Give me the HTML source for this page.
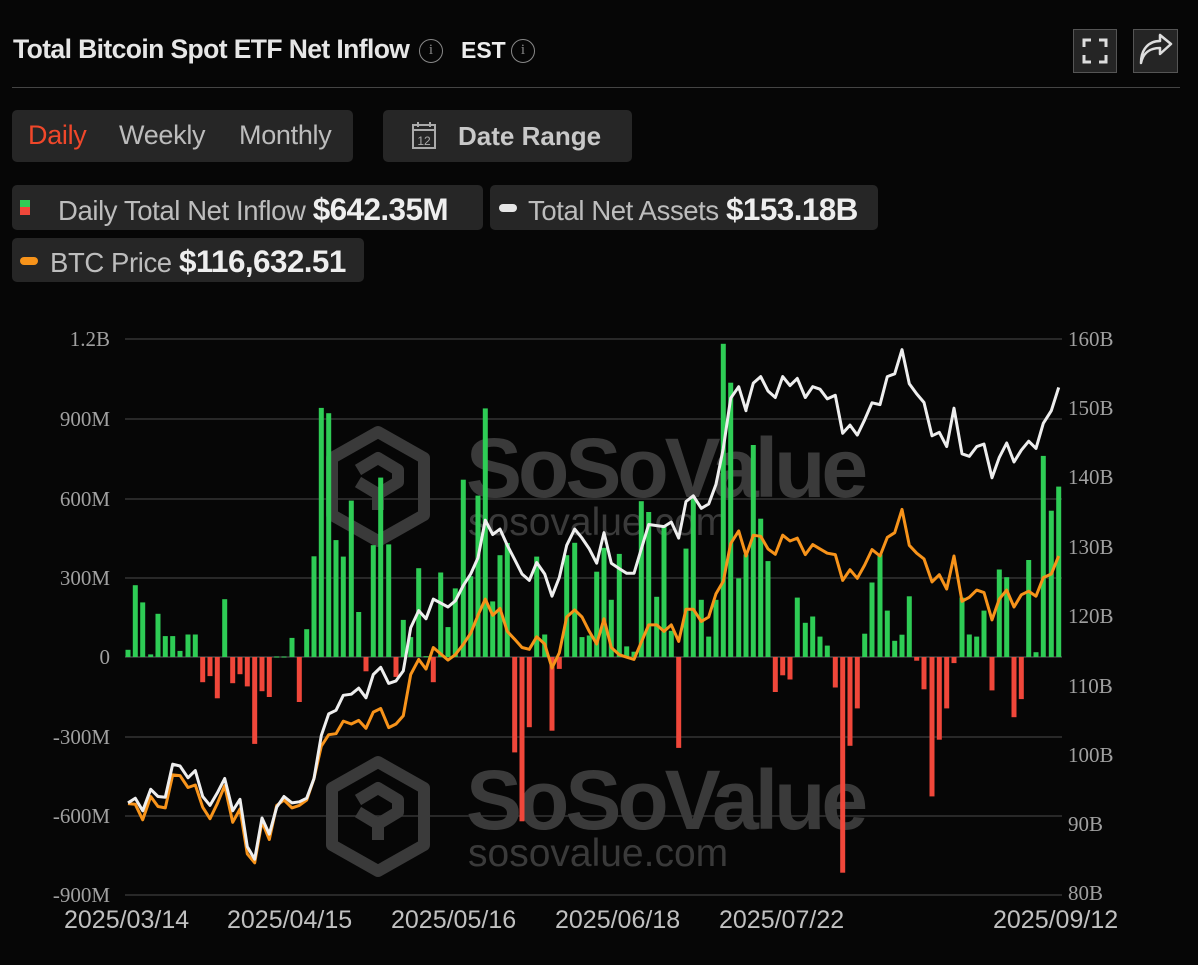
<!DOCTYPE html>
<html><head><meta charset="utf-8">
<style>
body{margin:0;background:#060606;width:1198px;height:965px;overflow:hidden;font-family:"Liberation Sans",sans-serif;color:#ddd;position:relative}
.abs{position:absolute}
.title{left:13px;top:34px;font-size:26.5px;font-weight:bold;color:#e6e6e6;letter-spacing:-0.6px}
.info{width:24px;height:24px;border:1.5px solid #888;border-radius:50%;box-sizing:border-box;color:#888;font-size:15px;text-align:center;line-height:21px;font-family:"Liberation Serif",serif}
.box{background:#262626;border-radius:5px}
.seg{font-size:27px;color:#bcbcbc;top:120px;letter-spacing:-0.3px}
.leg{font-size:27.5px;color:#bdbdbd;letter-spacing:-0.4px}
.leg b{color:#eee;font-size:31.5px;letter-spacing:-0.6px}
.yl{font-family:"Liberation Serif",serif;font-size:21px;fill:#a0a0a0}
.xl{font-size:25px;fill:#c0c0c0}
</style></head><body>
<div class="abs title">Total Bitcoin Spot ETF Net Inflow</div>
<div class="abs info" style="left:419px;top:39px">i</div>
<div class="abs" style="left:461px;top:37px;font-size:23px;font-weight:bold;color:#eee">EST</div>
<div class="abs info" style="left:511px;top:39px">i</div>
<div class="abs" style="left:1073px;top:29px;width:44px;height:44px;border:1px solid #555;background:#252525;box-sizing:border-box"></div>
<svg class="abs" style="left:1073px;top:29px" width="44" height="44"><path d="M11 18V11H18M26 11H33V18M33 26V33H26M18 33H11V26" stroke="#ddd" stroke-width="3" fill="none"/></svg>
<div class="abs" style="left:1133px;top:29px;width:45px;height:44px;border:1px solid #555;background:#252525;box-sizing:border-box"></div>
<svg class="abs" style="left:1133px;top:29px" width="45" height="44"><path d="M8 34C10 24 17 19 27 19V25L38 15L27 6V12C15 12 8 21 8 34Z" stroke="#ddd" stroke-width="2.5" fill="none" stroke-linejoin="round"/></svg>
<div class="abs" style="left:12px;top:87px;width:1168px;height:1px;background:#444"></div>

<div class="abs box" style="left:12px;top:110px;width:341px;height:52px"></div>
<div class="abs seg" style="left:28px;color:#f0472a">Daily</div>
<div class="abs seg" style="left:119px">Weekly</div>
<div class="abs seg" style="left:239px">Monthly</div>
<div class="abs box" style="left:383px;top:110px;width:249px;height:52px"></div>
<svg class="abs" style="left:410px;top:120px" width="30" height="32"><rect x="3" y="5" width="22" height="23" fill="none" stroke="#aaa" stroke-width="2"/><line x1="3" y1="10" x2="25" y2="10" stroke="#aaa" stroke-width="2"/><line x1="8" y1="2" x2="8" y2="7" stroke="#aaa" stroke-width="2"/><line x1="20" y1="2" x2="20" y2="7" stroke="#aaa" stroke-width="2"/><text x="14" y="25" font-size="12" fill="#aaa" text-anchor="middle" font-family="Liberation Sans">12</text></svg>
<div class="abs" style="left:458px;top:121px;font-size:26px;font-weight:bold;color:#c8c8c8">Date Range</div>

<div class="abs box" style="left:12px;top:185px;width:471px;height:45px"></div>
<div class="abs" style="left:20px;top:200px;width:10px;height:7px;background:#2ecc55"></div>
<div class="abs" style="left:20px;top:207px;width:10px;height:8px;background:#f0473a"></div>
<div class="abs leg" style="left:58px;top:191px">Daily Total Net Inflow <b>$642.35M</b></div>
<div class="abs box" style="left:490px;top:185px;width:388px;height:45px"></div>
<div class="abs" style="left:499px;top:204px;width:18px;height:8px;border-radius:4px;background:#e6e6e6"></div>
<div class="abs leg" style="left:528px;top:191px">Total Net Assets <b>$153.18B</b></div>
<div class="abs box" style="left:12px;top:238px;width:352px;height:44px"></div>
<div class="abs" style="left:20px;top:257px;width:18px;height:8px;border-radius:4px;background:#f7931a"></div>
<div class="abs leg" style="left:50px;top:243px">BTC Price <b>$116,632.51</b></div>

<svg class="abs" style="left:0;top:0" width="1198" height="965" id="ch">
<g stroke="#333" stroke-width="1.5">
<line x1="125" x2="1062" y1="339" y2="339"/><line x1="125" x2="1062" y1="419" y2="419"/><line x1="125" x2="1062" y1="499" y2="499"/><line x1="125" x2="1062" y1="578" y2="578"/><line x1="125" x2="1062" y1="657" y2="657" stroke="#444"/><line x1="125" x2="1062" y1="737" y2="737"/><line x1="125" x2="1062" y1="816" y2="816"/><line x1="125" x2="1062" y1="895" y2="895"/>
</g>
<g fill="#3a3a3a">
<text x="466" y="497" font-size="84" font-weight="bold" letter-spacing="-4" font-family="Liberation Sans">SoSoValue</text>
<text x="468" y="535" font-size="39" font-family="Liberation Sans">sosovalue.com</text>
<text x="466" y="829" font-size="84" font-weight="bold" letter-spacing="-4" font-family="Liberation Sans">SoSoValue</text>
<text x="468" y="866" font-size="39" font-family="Liberation Sans">sosovalue.com</text>
</g>
<g fill="none" stroke="#3a3a3a" stroke-width="12" stroke-linejoin="round">
<path d="M378 432L424 458V515L378 541L332 515V458Z"/>
<path d="M358 470L378 458L398 470V482L378 494V510M378 494L358 482"/>
<path d="M378 762L424 788V845L378 871L332 845V788Z"/>
<path d="M358 800L378 788L398 800V812L378 824V840M378 824L358 812"/>
</g>
<g id="bars"></g>
<g id="lines"></g>
<g class="yl" text-anchor="end">
<text x="110" y="346">1.2B</text><text x="110" y="426">900M</text><text x="110" y="506">600M</text><text x="110" y="585">300M</text><text x="110" y="664">0</text><text x="110" y="744">-300M</text><text x="110" y="823">-600M</text><text x="110" y="902">-900M</text>
</g>
<g class="yl">
<text x="1068" y="346">160B</text><text x="1068" y="415">150B</text><text x="1068" y="484">140B</text><text x="1068" y="554">130B</text><text x="1068" y="623">120B</text><text x="1068" y="693">110B</text><text x="1068" y="762">100B</text><text x="1068" y="831">90B</text><text x="1068" y="900">80B</text>
</g>
<g class="xl" font-family="Liberation Sans">
<text x="64" y="928">2025/03/14</text><text x="227" y="928">2025/04/15</text><text x="391" y="928">2025/05/16</text><text x="555" y="928">2025/06/18</text><text x="719" y="928">2025/07/22</text><text x="993" y="928">2025/09/12</text>
</g>
</svg>
<script>
var Z=[120,430,740];
var B=[
[0,[[24,27],[46,271],[68,206],[92,10],[114,163],[136,79],[158,79],[180,23],[204,85],[226,85],[248,-95],[270,-72],[292,-156],[314,218],[338,-99],[360,-65],[382,-111],[404,-328],[426,-129],[448,-151],[470,2],[492,2],[516,72],[538,-170],[560,105],[582,380],[604,940],[626,920],[648,441],[670,379],[694,590],[716,170],[738,-54],[760,422],[782,677],[806,425],[828,-75],[850,140],[872,75],[896,335],[918,3]]],
[1,[[10,-95],[32,319],[54,113],[76,259],[100,669],[122,305],[144,609],[166,938],[188,210],[210,384],[232,430],[254,-360],[276,-620],[298,-265],[320,379],[344,85],[366,-278],[388,-45],[410,384],[434,431],[456,75],[478,81],[500,322],[522,412],[544,216],[568,389],[590,40],[612,20],[634,588],[656,547],[680,227],[702,493],[724,99],[746,-343],[768,409],[790,604],[814,216],[836,77],[858,216],[880,1182],[902,1035],[926,297]]],
[2,[[18,387],[40,800],[62,522],[84,362],[106,-132],[128,-69],[150,-85],[172,224],[196,129],[218,153],[240,77],[262,43],[286,-115],[308,-814],[330,-335],[352,-194],[374,88],[396,281],[420,387],[442,175],[464,61],[486,84],[508,229],[530,-14],[552,-122],[576,-526],[598,-312],[620,-194],[642,-23],[666,224],[688,85],[710,77],[732,175],[756,-126],[778,330],[800,301],[822,-227],[844,-159],[866,366],[888,18],[910,759],[934,552],[956,643]]]];
var g=document.getElementById("bars"),s="";
B.forEach(function(z){var o=Z[z[0]];z[1].forEach(function(b){var x=o+b[0]/3-2.5,v=b[1],h=Math.abs(v)*79.5/300,y=v>=0?657-h:657;
s+='<rect x="'+x.toFixed(1)+'" y="'+y.toFixed(1)+'" width="5" height="'+Math.max(h,1).toFixed(1)+'" fill="'+(v>=0?'#2ecc55':'#f0473a')+'"/>';});});
g.innerHTML=s;
var W=[
"24,1318 46,1305 68,1340 92,1280 114,1300 136,1302 158,1210 180,1215 204,1248 226,1228 248,1300 270,1325 292,1290 314,1250 338,1340 360,1308 382,1440 404,1475 426,1360 448,1405 470,1330 492,1300 516,1318 538,1315 560,1305 582,1250 604,1130 626,1070 648,1060 670,1018 694,1015 716,998 738,1025 760,960 782,940 806,985 828,978 850,950 872,830 896,782 918,805 940,750",
"54,772 76,755 100,712 122,680 144,635 166,530 188,570 210,555 232,600 254,640 276,680 298,698 320,648 344,680 366,742 388,690 410,600 434,555 456,580 478,610 500,650 522,565 544,650 568,665 590,678 612,678 634,610 656,542 680,545 702,548 724,535 746,580 768,478 790,462 814,497 836,485 858,430 880,330 902,190 926,158 948,225",
"18,222 40,148 62,130 84,170 106,188 128,130 150,155 172,135 196,188 218,158 240,165 262,192 286,182 308,288 330,265 352,293 374,250 396,203 420,208 442,130 464,122 486,55 508,150 530,178 552,202 576,295 598,285 620,325 642,218 666,345 688,352 710,325 732,318 756,412 778,355 800,315 822,368 844,335 866,310 888,330 910,260 934,225 956,160"];
var O=[
"24,1320 46,1322 68,1365 92,1300 114,1328 136,1332 158,1240 180,1242 204,1275 226,1268 248,1330 270,1362 292,1320 314,1270 338,1372 360,1335 382,1460 404,1485 426,1370 448,1420 470,1325 492,1310 516,1332 538,1325 560,1310 582,1250 604,1160 626,1128 648,1125 670,1090 694,1098 716,1088 738,1110 760,1065 782,1055 806,1108 828,1098 850,1075 872,960 896,918 918,945 940,885",
"54,920 76,905 100,876 122,845 144,795 166,750 188,795 210,776 232,840 254,862 276,885 298,890 320,855 344,875 366,942 388,900 410,800 434,780 456,800 478,840 500,875 522,805 544,885 568,905 590,912 612,918 634,870 656,822 680,822 702,840 724,822 746,868 768,778 790,778 814,812 836,800 858,735 880,700 902,595 926,560 948,628",
"18,630 40,572 62,575 84,610 106,625 128,572 150,588 172,580 196,626 218,598 240,610 262,622 286,626 308,698 330,668 352,692 374,655 396,612 420,630 442,578 464,565 486,500 508,600 530,622 552,638 576,702 598,682 620,722 642,630 666,756 688,745 710,725 732,732 756,808 778,750 800,725 822,772 844,738 866,728 888,742 910,690 934,680 956,630"];
function pts(arr){var r=[];arr.forEach(function(str,i){str.split(" ").forEach(function(p){var a=p.split(",");r.push((Z[i]+a[0]/3).toFixed(1)+","+(330+a[1]/2.787).toFixed(1));});});return r.join(" ");}
document.getElementById("lines").innerHTML='<polyline points="'+pts(O)+'" fill="none" stroke="#f7931a" stroke-width="3" stroke-linejoin="round"/><polyline points="'+pts(W)+'" fill="none" stroke="#eeeeee" stroke-width="3" stroke-linejoin="round"/>';
</script>
</body></html>
